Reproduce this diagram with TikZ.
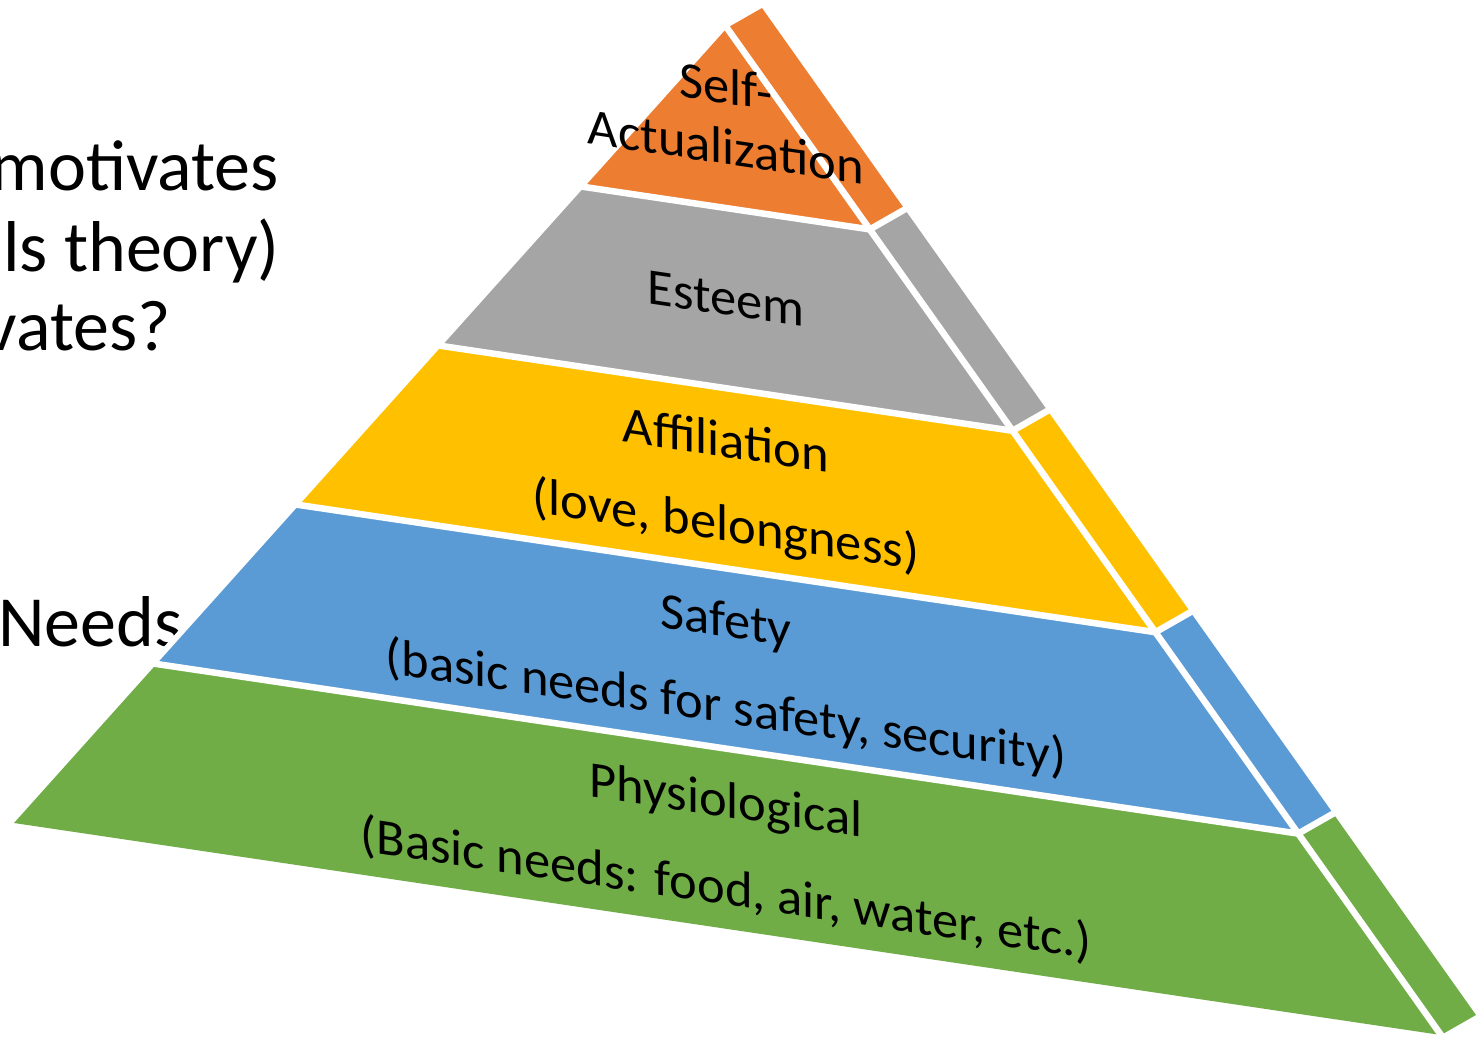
\documentclass[tikz,border=0pt]{standalone}
\usepackage{fontspec}
\setmainfont{Carlito}
\usetikzlibrary{calc}
\definecolor{sorange}{HTML}{ED7D31}
\definecolor{sgray}{HTML}{A5A5A5}
\definecolor{sgold}{HTML}{FFC000}
\definecolor{sblue}{HTML}{5B9BD5}
\definecolor{sgreen}{HTML}{70AD47}
\begin{document}
\begin{tikzpicture}[x=1pt,y=-1pt,
  sepline/.style={white,line width=6.5pt,line join=miter},
  lvl/.style={inner sep=0pt,anchor=base,yslant=-0.148,yscale=0.98,font=\fontsize{52.5}{60}\selectfont},
  slide/.style={inner sep=0pt,font=\fontsize{72}{86}\selectfont}]
\useasboundingbox (0,0) rectangle (1483,1036);
\clip (0,0) rectangle (1483,1036);
% slide text behind the pyramid
\node[slide,anchor=base east] (w1) at (279,190) {motivates};
\node[slide,anchor=base east] (w2) at (280,271.5) {ls theory)};
\node[slide,anchor=base east] (w3) at (171,350) {vates?};
\node[slide,anchor=base west] (w4) at (-2,646) {Needs};
% geometry
\coordinate (A) at (727,28);
\coordinate (L) at (14,823);
\coordinate (R) at (1441,1035);
\foreach \k/\f in {0/0,1/0.2,2/0.4,3/0.6,4/0.8,5/1}{
  \coordinate (L\k) at ($(A)!\f!(L)$);
  \coordinate (P\k) at ($(A)!\f!(R)$);
  \coordinate (Q\k) at ($(P\k)+(35,-20)$);
}
% white halo
\fill[white,draw=white,line width=12pt] (L0) -- (L5) -- (P5) -- (Q5) -- (Q0) -- cycle;
% bands
\foreach \k/\n/\c in {0/1/sorange,1/2/sgray,2/3/sgold,3/4/sblue,4/5/sgreen}{
  \fill[\c] (L\k) -- (L\n) -- (P\n) -- (Q\n) -- (Q\k) -- (P\k) -- cycle;
}
% separators
\draw[sepline,shorten <=-8pt,shorten >=-8pt] (P0) -- (P5);
\foreach \k in {1,2,3,4}{
  \draw[sepline,shorten <=-4pt,shorten >=-4pt] (L\k) -- (P\k) -- (Q\k);
}
% labels
\node[lvl] (tself) at (726,103.5) {Self-};
\node[lvl] (tact) at (726,164) {Actualization};
\node[lvl] (test) at (726,315) {Esteem};
\node[lvl] (taff) at (726,457) {Affiliation};
\node[lvl] (tlove) at (726,541) {(love, belongness)};
\node[lvl] (tsaf) at (726,637) {Safety};
\node[lvl] (tsafd) at (726,723) {(basic needs for safety, security)};
\node[lvl] (tphy) at (726,817) {Physiological};
\node[lvl] (tphyd) at (726,905) {(Basic needs: food, air, water, etc.)};
\end{tikzpicture}
\end{document}
